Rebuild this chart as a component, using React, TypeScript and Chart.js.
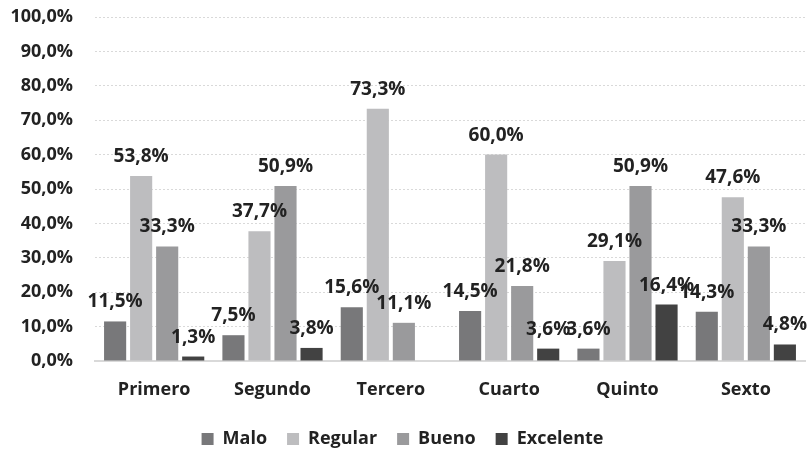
import React, { useEffect, useRef } from "react";
import { Chart, registerables } from "chart.js";

Chart.register(...registerables);

const categories = ["Primero", "Segundo", "Tercero", "Cuarto", "Quinto", "Sexto"];
const seriesNames = ["Malo", "Regular", "Bueno", "Excelente"];
const malo = [11.5, 7.5, 15.6, 14.5, 3.6, 14.3];
const regular = [53.8, 37.7, 73.3, 60.0, 29.1, 47.6];
const bueno = [33.3, 50.9, 11.1, 21.8, 50.9, 33.3];
const excelente: (number | null)[] = [1.3, 3.8, null, 3.6, 16.4, 4.8];
const seriesColors = ["#78787a", "#bdbdbf", "#9a9a9c", "#424242"];

const FONT = "'Open Sans', sans-serif";
const TEXT = "#222222";

const fmt = (v: number) => v.toFixed(1).replace(".", ",") + "%";

const labelPlugin = {
  id: "barLabels",
  afterDatasetsDraw(chart: any) {
    const ctx = chart.ctx;
    ctx.save();
    ctx.font = `bold 19px ${FONT}`;
    ctx.fillStyle = TEXT;
    ctx.textAlign = "center";
    ctx.textBaseline = "alphabetic";
    chart.data.datasets.forEach((ds: any, i: number) => {
      const meta = chart.getDatasetMeta(i);
      meta.data.forEach((el: any, j: number) => {
        const v = ds.data[j];
        if (v === null || v === undefined) return;
        ctx.fillText(fmt(v), el.x, el.y - 14);
      });
    });
    ctx.restore();
  },
};

export default function App() {
  const ref = useRef<HTMLCanvasElement>(null);
  useEffect(() => {
    if (!ref.current) return;
    const data = [malo, regular, bueno, excelente];
    const chart = new Chart(ref.current, {
      type: "bar",
      data: {
        labels: categories,
        datasets: seriesNames.map((n, i) => ({
          label: n,
          data: data[i] as any,
          backgroundColor: seriesColors[i],
          borderWidth: 0,
          categoryPercentage: 0.88,
          barPercentage: 0.85,
        })),
      },
      options: {
        responsive: false,
        animation: false,
        devicePixelRatio: 1,
        layout: { padding: { top: 17, right: 5, left: 0, bottom: -8 } },
        plugins: {
          tooltip: { enabled: false },
          legend: {
            position: "bottom",
            labels: {
              boxWidth: 12,
              boxHeight: 12,
              padding: 20,
              color: TEXT,
              font: { family: FONT, size: 18, weight: "bold" },
            },
          },
        },
        scales: {
          x: {
            grid: { display: false, drawTicks: false },
            border: { display: true, color: "#d9d9d9", width: 2 },
            ticks: { color: TEXT, padding: 18, font: { family: FONT, size: 18, weight: "bold" } },
            afterFit: (s: any) => { s.height = 49; },
          },
          y: {
            min: 0,
            max: 100,
            ticks: {
              stepSize: 10,
              color: TEXT,
              padding: 0,
              font: { family: FONT, size: 18, weight: "bold" },
              callback: (v: any) => fmt(Number(v)),
            },
            grid: {
              color: "#d9d9d9",
              drawTicks: true,
              tickLength: 22,
              tickColor: "rgba(0,0,0,0)",
              lineWidth: 1,
            },
            border: { display: false, dash: [2, 2] },
            afterFit: (s: any) => { s.width = 95; },
          },
        },
      },
      plugins: [labelPlugin],
    });
    return () => chart.destroy();
  }, []);
  return (
    <div style={{ position: "absolute", left: 0, top: 0, width: 810, height: 450, background: "#fff" }}>
      <canvas ref={ref} width={810} height={450} />
    </div>
  );
}
